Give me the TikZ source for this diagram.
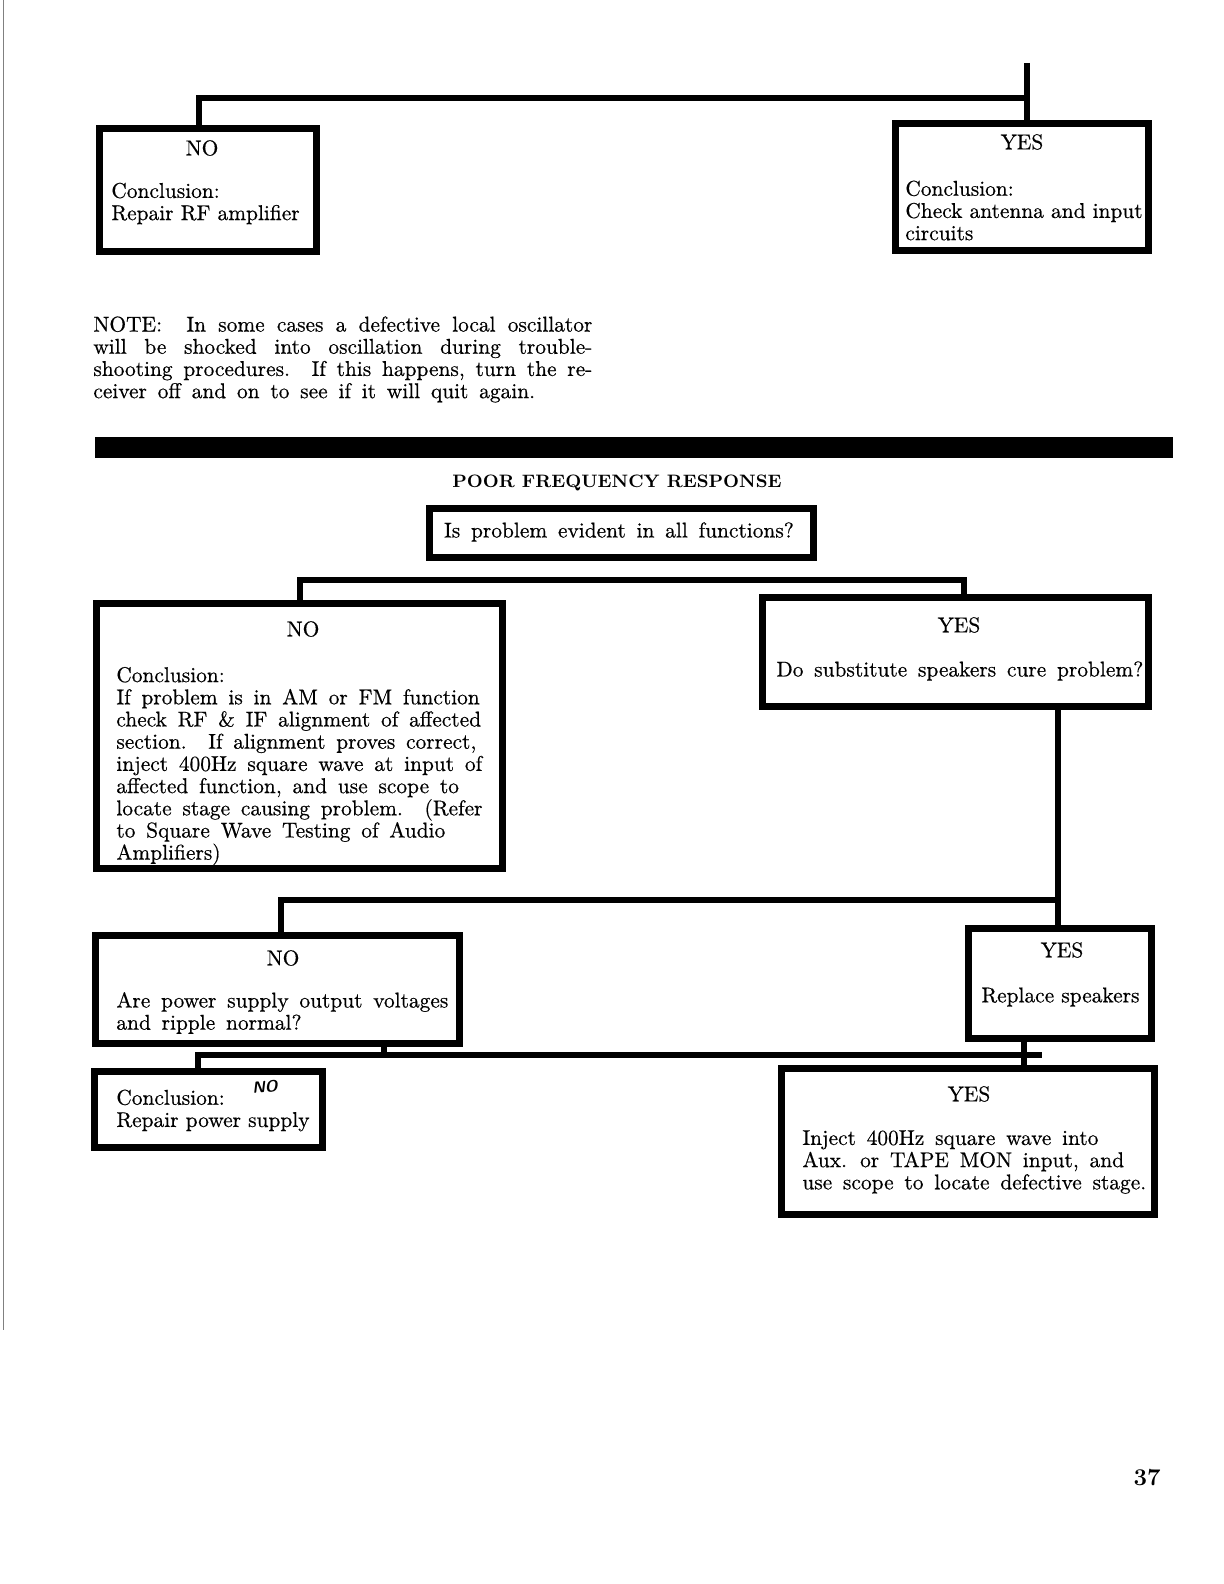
\documentclass[tikz,border=0pt]{standalone}
\usepackage{fontspec}
\usepackage{tikz}
\usetikzlibrary{calc}
\newfontfamily\scanfont{Latin Modern Roman}[FakeBold=0.5]
\newcommand{\txtsize}{\scanfont\fontsize{10.7}{11.1}\selectfont}
\newcommand{\widesp}{\spaceskip=5.4pt plus 2pt minus 1pt\relax}
\tikzstyle{box} = [draw,line width=3.5pt,rectangle,inner sep=0pt]
\tikzstyle{wire} = [line width=3.4pt,line join=miter]
\tikzstyle{txt} = [anchor=west,align=left,inner sep=0pt,font=\txtsize]
\tikzstyle{widetxt} = [txt,font=\txtsize\widesp]
\tikzstyle{hd} = [inner sep=0pt,font=\txtsize]

\begin{document}
\begin{tikzpicture}[x=0.5pt,y=-0.5pt]
\useasboundingbox (0,0) rectangle (1224,1584);
\draw[gray,line width=0.4pt] (3,0) -- (3,1330);

% upper part
\node[box,minimum width=108.5pt,minimum height=61pt] (boxA) at (207.5,190) {};
\draw(202,148) node[hd] (noA) {NO};
\draw(111,203.5) node[txt] (tA) {Conclusion:\\Repair RF amplifier};

\node[box,minimum width=126.5pt,minimum height=63pt] (boxB) at (1021.5,187) {};
\draw(1022,142) node[hd] (yesB) {YES};
\draw(905,210.5) node[txt] (tB) {Conclusion:\\Check antenna and input\\circuits};

\coordinate (tIn) at (1027,63);
\coordinate (t1) at (199,98);
\coordinate (t2) at (1027,98);
\draw[wire] (tIn) -- (t2 |- boxB.north);
\draw[wire] (t2) -- (t1) -- (t1 |- boxA.north);

\draw(93,359.5) node[widetxt,text width=249.5pt,align=justify] (note) {NOTE:\ \ In some cases a defective local oscillator\linebreak
will be shocked into oscillation during trouble-\linebreak
shooting procedures.\ \ If this happens, turn the re-\linebreak
ceiver off and on to see if it will quit again.};

\fill (95,437) rectangle (1173,458);

% poor frequency response
\draw(617,483) node[hd,font=\fontsize{9}{10}\selectfont\bfseries] (title) {POOR FREQUENCY RESPONSE};

\node[box,minimum width=192pt,minimum height=24.5pt] (boxQ) at (621,532.5) {};
\draw(619,532) node[hd,font=\txtsize\widesp] (tQ) {Is problem evident in all functions?};

\node[box,minimum width=203pt,minimum height=132.5pt] (boxC) at (299,735.5) {};
\draw(303,629) node[hd] (noC) {NO};
\draw(116,766) node[widetxt] (tC) {Conclusion:\\
If problem is in AM or FM function\\
check RF \& IF alignment of affected\\
section.\ \ If alignment proves correct,\\
inject 400Hz square wave at input of\\
affected function, and use scope to\\
locate stage causing problem.\ \ (Refer\\
to Square Wave Testing of Audio\\
Amplifiers)};

\node[box,minimum width=193pt,minimum height=54.5pt] (boxD) at (955,651.5) {};
\draw(959,625) node[hd] (yesD) {YES};
\draw(776,671) node[widetxt] (tD) {Do substitute speakers cure problem?};

\coordinate (m1) at (300,580);
\coordinate (m2) at (964,580);
\draw[wire] (m1 |- boxC.north) -- (m1) -- (m2) -- (m2 |- boxD.north);

\node[box,minimum width=182pt,minimum height=54pt] (boxE) at (277,989) {};
\draw(283,958) node[hd] (noE) {NO};
\draw(116,1013) node[widetxt] (tE) {Are power supply output voltages\\and ripple normal?};

\node[box,minimum width=91.5pt,minimum height=55pt] (boxF) at (1059.5,983) {};
\draw(1062,950) node[hd] (yesF) {YES};
\draw(981,997) node[txt] (tF) {Replace speakers};

\coordinate (l1) at (281,900);
\coordinate (l2) at (1058,900);
\draw[wire] (l2 |- boxD.south) -- (l2 |- boxF.north);
\draw[wire] (l2) -- (l1) -- (l1 |- boxE.north);

\node[box,minimum width=114pt,minimum height=38pt] (boxG) at (208,1109) {};
\draw(116,1110.5) node[txt] (tG) {Conclusion:\\Repair power supply};
\draw(265,1087) node[hd,font=\sffamily\bfseries\itshape\footnotesize,rotate=5] (hand) {NO};

\node[box,minimum width=186.5pt,minimum height=73pt] (boxH) at (967.5,1141) {};
\draw(969,1094) node[hd] (yesH) {YES};
\draw(802,1162) node[widetxt] (tH) {Inject 400Hz square wave into\\
Aux. or TAPE MON input, and\\
use scope to locate defective stage.};

\coordinate (b0) at (384,1055);
\coordinate (b1) at (198,1055);
\coordinate (b2) at (1024,1055);
\coordinate (b3) at (1042,1055);
\draw[wire] (b0 |- boxE.south) -- (b0);
\draw[wire] (b1 |- boxG.north) -- (b1) -- (b3);
\draw[wire] (b2 |- boxF.south) -- (b2 |- boxH.north);

\draw(1147,1478) node[hd,font=\fontsize{12}{12}\selectfont\bfseries] (page) {37};
\end{tikzpicture}
\end{document}
